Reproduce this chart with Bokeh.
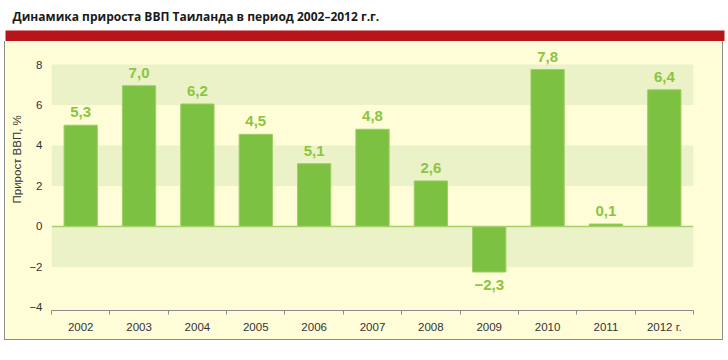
from bokeh.plotting import figure
from bokeh.layouts import column, row
from bokeh.models import Range1d, FixedTicker, Span, Spacer, Title
from bokeh.core.properties import value
from bokeh.embed import file_html
from bokeh.resources import INLINE

# ---- data ----
years = ["2002", "2003", "2004", "2005", "2006", "2007", "2008", "2009", "2010", "2011", "2012"]
year_labels = ["2002", "2003", "2004", "2005", "2006", "2007", "2008", "2009", "2010", "2011", "2012 г."]
growth = [5.0, 6.95, 6.05, 4.55, 3.1, 4.8, 2.25, -2.25, 7.75, 0.12, 6.75]
value_labels = ["5,3", "7,0", "6,2", "4,5", "5,1", "4,8", "2,6", "\u22122,3", "7,8", "0,1", "6,4"]
band_bottoms = [-2, 2, 6]
band_tops = [0, 4, 8]
y_ticks = [-4, -2, 0, 2, 4, 6, 8]
title_text = "Динамика прироста ВВП Таиланда в период 2002\u20132012 г.г."
y_title = "Прирост ВВП, %"

# ---- style ----
YELLOW = "#FFFCD8"
BAND = "#EBF2C8"
BAR = "#7CC142"
BAR_EDGE = "#9BCF63"
LABEL_GREEN = "#8BC53F"
RED = "#B81419"
GRAY = "#8C8C8C"
TXT = "#333333"
SANS = "Liberation Sans"

n = len(years)
centers = [i + 0.5 for i in range(n)]
boundaries = list(range(n + 1))

# ---- header: title + red band ----
head = figure(width=728, height=41, output_backend="svg", toolbar_location=None,
              x_range=Range1d(0, 1), y_range=Range1d(0, 1),
              x_axis_type=None, y_axis_type=None,
              min_border_left=5, min_border_right=4, min_border_top=30, min_border_bottom=0,
              border_fill_color="white", background_fill_color=RED, outline_line_color=None,
              title=title_text)
head.frame_align = False
head.xgrid.visible = False
head.ygrid.visible = False
head.title.text_font = "Open Sans"
head.title.text_font_size = "12px"
head.title.text_font_style = "bold"
head.title.text_color = "#1A1A1A"
head.title.align = "left"
head.title.offset = 7
head.title.standoff = 11

# ---- main chart ----
p = figure(width=717, height=298, output_backend="svg", toolbar_location=None,
           x_range=Range1d(0, n), y_range=Range1d(-4.15, 9.136),
           min_border_left=44, min_border_right=29, min_border_top=0, min_border_bottom=29,
           border_fill_color=YELLOW, background_fill_color=YELLOW, outline_line_color=None)
p.frame_align = False
p.xgrid.visible = False
p.ygrid.visible = False

p.quad(left=0, right=n, bottom=band_bottoms, top=band_tops, fill_color=BAND, line_color=None)
p.add_layout(Span(location=0, dimension="width", line_color="#A6D16A", line_width=1.5))
p.vbar(x=centers, top=growth, bottom=0, width=0.57, fill_color=BAR, line_color=BAR_EDGE, line_width=1)

offsets = [-13 if v >= 0 else 13 for v in growth]
p.text(x=centers, y=growth, text=value_labels, y_offset=offsets, text_align="center",
       text_baseline="middle", text_color=LABEL_GREEN, text_font=value(SANS),
       text_font_size="15px", text_font_style="bold")

xa = p.xaxis[0]
xa.ticker = FixedTicker(ticks=centers, minor_ticks=boundaries)
xa.major_label_overrides = {c: lab for c, lab in zip(centers, year_labels)}
xa.major_tick_out = 0
xa.major_tick_in = 0
xa.minor_tick_out = 4
xa.minor_tick_in = 0
xa.minor_tick_line_color = GRAY
xa.axis_line_color = GRAY
xa.axis_line_width = 1.2
xa.major_label_text_font = SANS
xa.major_label_text_font_size = "11.5px"
xa.major_label_text_color = TXT
xa.major_label_standoff = 6

ya = p.yaxis[0]
ya.ticker = FixedTicker(ticks=y_ticks, minor_ticks=[])
ya.major_label_overrides = {t: str(t).replace("-", "\u2212") for t in y_ticks}
ya.axis_line_color = None
ya.major_tick_line_color = None
ya.minor_tick_line_color = None
ya.major_label_standoff = 3
ya.major_label_text_font = SANS
ya.major_label_text_font_size = "11.5px"
ya.major_label_text_color = TXT

ytitle = Title(text=y_title, align="left", offset=107, standoff=7,
               text_font=SANS, text_font_size="11.5px", text_font_style="normal",
               text_color=TXT)
p.add_layout(ytitle, "left")

# thin grey frame lines round the panel
def grey(w, h):
    return Spacer(width=w, height=h, styles={"background-color": GRAY})

body = row(Spacer(width=4, height=298), grey(1, 298), p, grey(1, 298), spacing=0)
bottom = row(Spacer(width=4, height=1), grey(719, 1), spacing=0)
layout = column(head, body, bottom, spacing=0)
open("out.html", "w").write(file_html(layout, INLINE))
